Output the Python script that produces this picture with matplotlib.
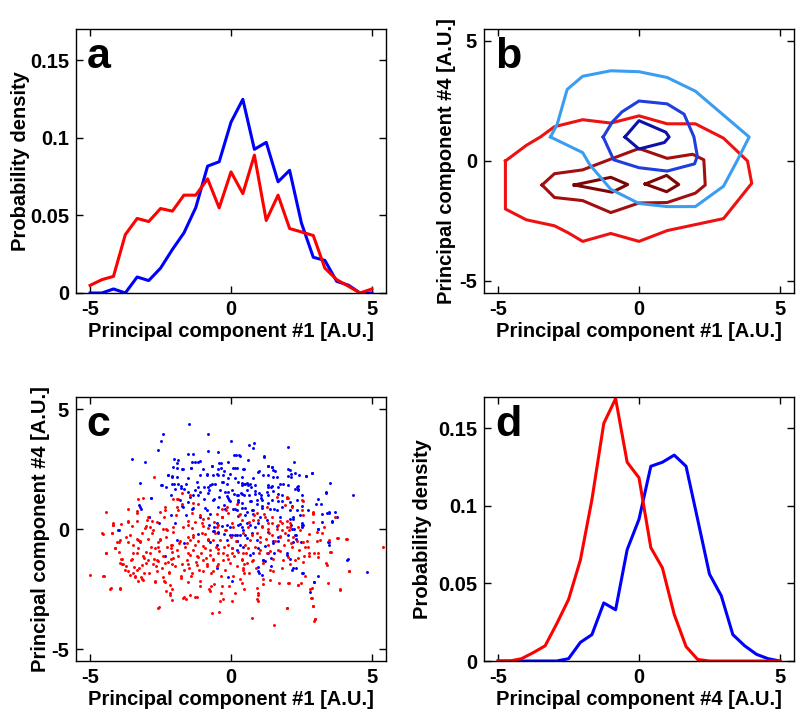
import numpy as np
import matplotlib
matplotlib.use('Agg')
import matplotlib.pyplot as plt

plt.rcParams['font.family'] = ['Liberation Sans', 'DejaVu Sans']
plt.rcParams['font.weight'] = 'bold'

# ---------------- data ----------------
bin_centers = [-5.0, -4.58, -4.17, -3.75, -3.33, -2.92, -2.5, -2.08, -1.67, -1.25,
               -0.83, -0.42, 0.0, 0.42, 0.83, 1.25, 1.67, 2.08, 2.5, 2.92,
               3.33, 3.75, 4.17, 4.58, 5.0]

pdf_pc1_red = [0.0049, 0.0086, 0.0107, 0.0376, 0.048, 0.046, 0.0544, 0.0527, 0.063, 0.063,
               0.0735, 0.0548, 0.078, 0.064, 0.0888, 0.0467, 0.063, 0.0415, 0.0393, 0.037,
               0.016, 0.0086, 0.0043, 0.0, 0.0026]
pdf_pc1_blue = [0.0, 0.0, 0.0026, 0.0, 0.0103, 0.008, 0.016, 0.028, 0.0387, 0.055,
                0.0817, 0.0845, 0.11, 0.1247, 0.0925, 0.097, 0.0716, 0.079, 0.045, 0.023,
                0.021, 0.0075, 0.005, 0.0, 0.0]

pdf_pc4_red = [0.0, 0.0, 0.0015, 0.0054, 0.0098, 0.024, 0.0396, 0.065, 0.104, 0.153,
               0.169, 0.128, 0.118, 0.073, 0.060, 0.030, 0.0093, 0.001, 0.0, 0.0,
               0.0, 0.0, 0.0, 0.0, 0.0]
pdf_pc4_blue = [0.0, 0.0, 0.0, 0.0, 0.0, 0.0, 0.0015, 0.012, 0.017, 0.0374,
                0.033, 0.0717, 0.0913, 0.1254, 0.128, 0.1326, 0.1254, 0.0913, 0.056, 0.042,
                0.017, 0.0098, 0.0043, 0.0015, 0.0]

# contour lines of panel b (pc1, pc4)
red_outer_x = [-4.74, -4.0, -3.5, -3.0, -2.0, -1.0, 0.0, 1.0, 2.0, 3.0, 3.85, 4.0, 3.0, 2.0, 1.0, 0.0, -1.0, -2.0, -2.5, -3.0, -4.0, -4.74, -4.74]
red_outer_y = [0.0, 0.65, 1.0, 1.43, 1.72, 1.58, 1.88, 1.55, 1.55, 0.95, 0.0, -0.93, -2.4, -2.65, -2.9, -3.35, -3.02, -3.35, -3.0, -2.7, -2.45, -2.0, 0.0]
red_mid_x = [-3.44, -3.0, -2.0, -1.0, 0.0, 1.0, 1.9, 2.3, 2.35, 2.0, 1.0, 0.0, -1.0, -2.0, -3.0, -3.44]
red_mid_y = [-1.0, -0.53, -0.37, 0.08, 0.52, 0.11, 0.28, 0.05, -1.0, -1.34, -1.73, -1.75, -2.15, -1.65, -1.52, -1.0]
red_in1_x = [-2.3, -1.0, -0.4, -0.95, -2.3]
red_in1_y = [-1.0, -0.68, -0.98, -1.3, -1.0]
red_in2_x = [0.22, 0.98, 1.41, 0.98, 0.22]
red_in2_y = [-0.96, -0.6, -0.98, -1.28, -0.96]
blue_outer_x = [-3.14, -2.9, -2.55, -2.0, -1.0, 0.0, 1.0, 2.0, 3.91, 3.5, 3.0, 2.0, 1.0, 0.0, -1.0, -1.75, -2.0, -3.14]
blue_outer_y = [1.0, 1.54, 2.98, 3.53, 3.76, 3.72, 3.48, 2.91, 1.0, 0.05, -1.05, -1.9, -1.9, -1.77, -1.18, -0.15, 0.35, 1.0]
blue_mid_x = [-1.27, -0.95, -0.6, 0.0, 1.0, 1.6, 1.95, 2.07, 1.97, 1.0, 0.0, -0.9, -1.27]
blue_mid_y = [1.0, 1.62, 2.05, 2.5, 2.38, 1.95, 1.0, 0.2, -0.12, -0.42, -0.28, 0.05, 1.0]
blue_in_x = [-0.5, 0.0, 0.95, 1.07, 0.9, 0.0, -0.5]
blue_in_y = [1.0, 1.68, 1.2, 1.0, 0.77, 0.5, 1.0]

# scatter of panel c (pc1, pc4)
blue_pts = [
(-1.48,4.39),(-2.43,3.95),(-0.83,3.98),(0.0,3.67),(-2.49,3.67),(0.64,3.51),(0.83,3.60),(0.79,3.36),
(2.04,3.42),(-2.6,3.29),(-0.8,3.23),(-0.45,3.19),(-1.54,3.12),(-1.36,3.12),(0.18,3.09),(0.32,3.05),
(1.17,3.01),(-3.51,2.90),(-3.05,2.78),(-2.02,2.92),(-1.87,2.89),(-1.28,2.78),(-1.1,2.82),(-0.09,2.78),
(0.62,2.87),(2.25,2.78),(1.3,2.64),(1.46,2.60),(2.08,2.46),(-2.05,2.6),(-1.72,2.5),(-1.42,2.54),
(-0.69,2.64),(-0.41,2.74),(-0.36,2.54),(0.14,2.54),(0.47,2.5),(1.0,2.41),(1.48,2.46),(-2.25,2.23),
(-2.1,2.16),(-1.93,2.16),(-1.1,2.23),(-0.86,2.3),(-0.51,2.3),(-0.27,2.23),(-0.04,2.3),(0.38,2.16),
(1.15,2.23),(1.64,2.16),(2.01,2.19),(2.65,2.19),(2.89,2.32),(-3.23,1.91),(-2.46,1.82),(-2.31,1.75),
(-2.01,1.86),(-1.78,1.72),(-1.6,1.86),(-1.18,1.77),(-0.83,1.77),(-0.69,1.88),(-0.3,1.95),(0.38,1.91),
(0.47,1.86),(0.56,1.91),(0.67,1.86),(0.71,1.75),(1.33,1.77),(1.42,1.77),(1.74,1.88),(3.51,1.91),
(2.33,1.75),(2.39,1.68),(-1.51,1.54),(-1.34,1.40),(-1.1,1.54),(-0.8,1.5),(-0.09,1.54),(0.2,1.40),
(0.38,1.47),(0.56,1.61),(0.85,1.58),(1.0,1.5),(1.27,1.54),(1.5,1.58),(1.68,1.47),(3.37,1.54),
(4.34,1.40),(-2.85,1.31),(-1.81,1.2),(-1.51,1.13),(-0.6,1.27),(-0.41,1.33),(-0.15,1.36),(-0.06,1.2),
(0.26,1.13),(0.7,1.17),(0.91,1.22),(1.05,1.31),(1.44,1.22),(1.8,1.17),(1.98,1.31),(2.33,1.22),
(-3.23,0.92),(-1.75,0.95),(-1.36,0.89),(-0.86,0.78),(-0.21,0.85),(0.08,0.85),(0.2,0.78),(0.38,0.89),
(0.56,0.72),(0.77,0.81),(1.09,0.95),(1.38,0.85),(1.62,0.78),(2.09,0.78),(2.51,0.95),(-1.6,0.58),
(-1.1,0.51),(-0.75,0.62),(-0.33,0.51),(0.26,0.54),(0.5,0.58),(0.79,0.62),(1.03,0.51),(1.74,0.51),
(2.09,0.4),(2.21,0.48),(3.22,0.62),(3.46,0.67),(3.75,0.51),(-2.91,0.51),(-2.54,0.23),(-1.99,0.26),
(-0.51,0.23),(-0.15,0.17),(0.32,0.21),(0.56,0.26),(0.97,0.23),(1.27,0.37),(1.62,0.12),(2.54,0.17),
(3.1,0.0),(3.57,0.34),(-3.96,-0.04),(-0.63,-0.07),(-0.45,-0.18),(-0.04,-0.25),(0.2,-0.25),(0.41,-0.04),
(0.73,-0.18),(1.33,-0.11),(1.68,-0.32),(2.31,-0.25),(-1.93,-0.45),(-0.8,-0.45),(0.2,-0.52),(0.91,-0.45),
(1.5,-0.52),(2.21,-0.56),(3.46,-0.56),(0.41,-0.73),(0.97,-0.8),(1.33,-1.0),(1.98,-1.0),(1.12,-1.28),
(1.2,-1.35),(1.42,-1.21),(2.21,-1.62),(2.51,-1.83),(1.0,-1.83),(4.13,-1.28),(4.82,-1.8),(2.8,-2.63),
(2.95,-2.21),(2.09,-1.25),(0.67,-1.07),
# second reading pass
(-1.9,2.75),(-1.9,2.53),(-1.73,2.48),(-2.23,2.26),(-2.08,2.2),(-1.89,1.89),(-2.08,1.89),(-2.48,1.82),
(-1.77,1.79),(-1.99,1.68),(-1.67,1.68),(-2.13,1.43),(-2.85,1.29),(-3.25,0.99),(-3.19,0.85),(-1.69,0.92),
(-2.13,0.58),(-2.9,0.51),(-4.0,-0.05),(-1.66,-0.6),(-2.34,-1.11),
(-0.35,2.75),(-1.37,2.78),(-1.16,2.78),(-1.42,2.53),(-0.98,2.48),(-0.69,2.61),(-0.47,2.48),(-0.24,2.43),
(0.08,2.53),(0.2,2.53),(0.44,2.5),(1.3,2.64),(1.47,2.57),(1.56,2.43),(-1.52,2.12),(-0.86,2.26),
(-0.63,2.26),(-0.45,2.23),(-0.12,2.12),(0.14,2.12),(0.79,2.12),(0.95,2.39),(1.3,2.23),(1.5,2.16),
(-1.22,1.95),(-0.95,1.75),(-0.75,1.82),(-0.57,1.89),(-0.33,1.95),(-0.15,1.89),(0.26,1.95),(0.38,1.84),
(0.5,1.89),(0.61,1.84),(0.85,1.82),(1.32,1.82),(1.47,1.79),(1.68,1.75),(1.86,1.89),(-1.28,1.61),
(-0.78,1.61),(-0.39,1.61),(-0.21,1.54),(0.02,1.61),(0.12,1.47),(0.24,1.4),(0.36,1.51),(0.47,1.4),
(0.64,1.4),(0.85,1.47),(1.06,1.4),(1.32,1.4),(1.8,1.4),(-1.46,1.33),(-1.16,1.4),(-0.95,1.27),
(-0.63,1.2),(-0.1,1.29),(-0.04,1.16),(0.26,1.2),(0.38,1.1),(0.67,1.16),(0.91,1.06),(1.11,1.2),
(1.32,1.1),(1.66,1.16),(1.8,0.92),(-1.39,0.85),(-0.92,0.88),(-0.45,0.92),(-0.24,0.99),(0.14,0.85),
(0.5,0.88),(0.73,0.78),(1.11,0.88),(1.54,0.82),(3.18,1.03),(1.18,3.03),(0.12,3.08),(0.3,3.08),
(-0.78,0.15),(-0.59,0.08),(-0.31,0.12),(-0.04,0.08),(0.26,0.15),(0.38,0.08),(0.67,0.18),(0.85,0.08),
(-1.16,-0.19),(-0.59,-0.1),(-0.45,-0.12),(-0.24,-0.19),(0.02,-0.26),(0.14,-0.26),(0.32,-0.26),(0.5,-0.26),
(0.56,-0.37),(-0.15,-0.47),(0.2,-0.51),(-0.75,-0.56),(-0.51,-0.67),(0.32,-0.67),(1.21,-0.7),(1.5,-0.6),
(1.68,-0.51),(0.02,-0.78),(0.2,-0.88),(0.79,-1.02),(1.54,-1.02),(1.15,-1.29),(0.95,-1.57),(1.42,-1.53),
(-0.51,-1.61),(-0.1,-1.98),(0.97,-1.77),(1.11,-1.91),(0.02,-2.16),
(2.03,2.48),(2.13,2.3),(2.13,2.16),(2.27,2.34),(2.41,2.23),(2.65,2.2),(2.89,2.34),(2.01,1.82),
(2.37,1.79),(2.27,1.68),(2.39,1.61),(3.36,1.51),(2.53,1.43),(3.1,1.27),(2.09,1.13),(2.18,0.96),
(3.02,1.06),(2.33,0.78),(2.74,0.78),(2.45,0.58),(3.4,0.65),(3.48,0.71),(3.69,0.69),(3.22,0.3),
(2.21,0.41),(2.53,0.23),(3.57,0.3),(2.13,0.18),(2.51,0.18),(2.53,0.08),(2.18,0.01),(2.25,-0.01),
(3.08,0.01),(2.03,-0.24),(2.27,-0.26),(2.3,-0.43),(2.48,-0.54),(3.43,-0.56),(3.48,-0.65),(1.98,-1.09),
(4.14,-1.25),(2.3,-1.64),(2.15,-1.7),(2.57,-1.84),(3.1,-1.94),(2.96,-2.22)]

red_pts = [
(-5.0,-1.93),(-4.56,-0.18),(-4.42,0.72),(-4.53,-1.97),(-4.44,-1.0),(-4.3,-2.48),(-4.24,-0.15),(-4.18,0.17),
(-4.12,-0.8),(-4.06,-0.56),(-3.94,-0.45),(-3.92,-1.25),(-3.88,-1.44),(-3.94,-2.48),(-3.76,-1.72),(-3.73,-1.55),
(-3.64,0.3),(-3.59,-0.25),(-3.56,-1.28),(-3.49,-1.83),(-3.47,-0.66),(-3.41,-1.94),(-3.35,0.65),(-3.33,-1.0),
(-3.29,-0.45),(-3.26,-1.62),(-3.23,-0.56),(-3.17,-2.1),(-3.17,-0.18),(-3.11,-1.14),(-3.05,0.03),(-3.02,-1.42),
(-2.96,0.51),(-2.93,-1.28),(-2.9,-1.83),(-2.88,0.1),(-2.85,-0.73),(-2.82,-0.18),(-2.73,2.16),(-2.7,-2.17),
(-2.66,-1.55),(-2.64,-1.28),(-2.58,-0.73),(-2.54,-3.27),(-2.52,-0.45),(-2.46,-1.62),(-2.4,-1.14),(-2.38,-2.17),
(-2.34,0.78),(-2.31,-0.32),(-2.28,-0.73),(-2.26,-0.04),(-2.22,-1.39),(-2.19,-1.83),(-2.17,-2.65),(-2.14,-0.66),
(-2.1,-2.52),(-2.07,0.1),(-2.05,-1.21),(-1.99,-1.55),(-1.93,0.92),(-1.91,-0.89),(-1.87,-1.11),(-1.81,-0.52),
(-1.79,-2.04),(-1.75,-1.45),(-1.72,-2.86),(-1.69,0.1),(-1.67,-1.69),(-1.63,-0.73),(-1.6,-2.93),(-1.57,-1.28),
(-1.51,-1.0),(-1.48,-1.62),(-1.46,-0.45),(-1.43,-1.97),(-1.4,0.65),(-1.36,-0.32),(-1.34,-0.87),(-1.28,-2.82),
(-1.24,-1.39),(-1.22,-1.11),(-1.16,-0.52),(-1.12,-1.69),(-1.1,-2.17),(-1.08,-1.0),(-1.04,-0.18),(-1.01,-1.28),
(-0.98,0.4),(-0.92,-0.8),(-0.86,-1.55),(-0.8,0.03),(-0.77,-2.52),(-0.75,-1.07),(-0.72,-1.83),(-0.69,-3.48),
(-0.65,-0.45),(-0.63,-1.28),(-0.6,-2.31),(-0.57,-0.18),(-0.53,-0.73),(-0.51,-1.53),(-0.48,0.1),(-0.45,-1.0),
(-0.41,-3.45),(-0.39,-0.45),(-0.37,-1.97),(-0.33,0.51),(-0.3,-1.28),(-0.27,-2.93),(-0.25,-0.73),(-0.21,-1.69),
(-0.18,-0.04),(-0.15,-1.07),(-0.13,0.92),(-0.09,-0.66),(-0.06,-2.38),(-0.04,-1.42),(-0.01,-0.32),(0.02,-0.8),
(0.06,-1.94),(0.08,0.1),(0.11,-1.14),(0.14,-2.65),(0.18,-0.52),(0.2,-1.55),(0.26,-0.94),(0.3,0.58),
(0.32,-2.1),(0.38,-1.28),(0.41,-0.18),(0.44,-1.69),(0.46,-2.52),(0.5,-0.66),(0.53,-1.0),(0.56,-1.42),
(0.62,0.1),(0.65,-1.83),(0.67,-0.45),(0.73,-3.69),(0.77,-1.28),(0.79,0.37),(0.85,-0.73),(0.88,-1.62),
(0.91,-0.18),(0.93,-2.93),(0.97,-2.65),(1.0,-1.0),(1.03,-0.56),(1.09,0.1),(1.12,-2.1),(1.15,-1.42),
(1.21,0.51),(1.24,-0.43),(1.27,-1.0),(1.33,-0.66),(1.36,-0.18),(1.38,-1.72),(1.44,0.23),(1.48,-1.25),
(1.54,-3.99),(1.56,-0.52),(1.62,-0.01),(1.68,-0.87),(1.72,-2.24),(1.74,-0.29),(1.8,0.23),(1.83,-1.28),
(1.88,-0.66),(1.92,-0.18),(1.98,-3.31),(2.0,1.33),(2.04,-0.45),(2.07,-2.24),(2.09,0.1),(2.15,-0.73),
(2.21,-0.32),(2.27,-1.28),(2.33,-0.52),(2.39,-2.35),(2.43,-0.87),(2.45,-0.04),(2.51,1.2),(2.54,-0.56),
(2.6,-1.14),(2.63,-1.94),(2.69,-0.52),(2.75,-1.14),(2.8,-2.52),(2.86,-2.86),(2.9,-3.2),(2.92,0.65),
(2.95,-3.82),(2.98,-3.76),(3.04,-0.52),(3.1,-0.98),(3.22,-0.18),(3.37,-1.42),(3.49,-0.45),(3.54,-0.94),
(3.75,-0.39),(3.87,-2.52),(4.08,-0.41),(4.17,-1.76),(5.38,-0.76),(-3.64,0.85),(-3.14,1.31),(-1.87,1.27),
(-0.18,0.78),(0.2,1.06),(0.91,0.65),(1.27,0.92),(1.64,1.33),(-0.33,0.85),
# second reading pass
(-1.73,1.51),(-2.05,1.24),(-1.93,1.24),(-3.29,1.24),(-2.34,0.92),(-1.75,1.06),(-1.87,0.78),(-3.33,0.74),
(-2.52,0.69),(-2.37,0.51),(-1.96,0.58),(-3.65,0.33),(-3.33,0.33),(-2.82,0.33),(-2.64,0.3),(-2.99,0.37),
(-4.18,0.24),(-3.9,0.19),
(-4.18,0.18),(-3.52,0.12),(-3.03,0.12),(-2.76,-0.05),(-2.42,-0.01),(-2.31,-0.01),(-2.05,-0.12),(-4.53,-0.19),
(-4.24,-0.17),(-3.74,-0.33),(-3.34,-0.4),(-3.23,-0.51),(-2.96,-0.4),(-2.52,-0.43),(-2.6,-0.56),(-2.08,-0.65),
(-1.85,-0.6),(-3.97,-0.56),(-3.65,-0.54),(-4.12,-0.78),(-3.29,-0.78),(-2.7,-0.81),(-2.13,-0.78),(-4.44,-1.02),
(-3.97,-0.95),(-3.47,-0.98),(-3.03,-0.95),(-2.88,-0.99),(-2.56,-0.92),(-2.1,-0.95),(-3.86,-1.25),(-3.52,-1.23),
(-3.08,-1.2),(-2.72,-1.25),(-2.58,-1.33),(-2.13,-1.23),(-3.94,-1.43),(-3.82,-1.47),(-3.43,-1.57),(-3.15,-1.5),
(-2.76,-1.47),(-2.34,-1.43),(-2.08,-1.47),(-4.51,-1.95),(-3.65,-1.77),(-3.35,-1.7),(-3.08,-1.84),(-2.64,-1.77),
(-2.2,-1.8),(-1.77,-1.94),(-3.59,-1.91),(-3.41,-2.02),(-3.19,-2.02),(-3.11,-2.12),(-3.31,-2.16),(-2.7,-2.19),
(-2.4,-1.98),(-2.34,-2.19),(-2.17,-2.32),(-4.26,-2.46),(-3.94,-2.46),(-2.31,-2.57),(-2.17,-2.77),(-2.08,-2.94),
(-1.66,-2.85),(-2.58,-3.31),
(-1.46,1.4),(-1.34,1.1),(-1.1,0.58),(-0.8,0.44),(-0.51,0.61),(-0.33,0.51),(-0.12,0.65),(0.32,0.61),
(0.4,0.37),(0.83,0.58),(0.97,0.37),(1.18,0.61),(1.47,0.51),(1.74,0.33),(-1.52,0.33),(-1.28,0.28),
(-1.04,0.23),(-0.59,0.28),(0.02,0.23),(0.64,0.28),(1.32,0.23),(-1.16,1.06),
(-1.54,0.15),(-1.37,0.04),(-0.98,0.12),(-0.47,0.18),(-0.21,-0.05),(1.09,0.12),(1.32,0.01),(1.68,0.15),
(1.82,-0.05),(-1.52,-0.33),(-1.34,-0.26),(-0.92,-0.19),(-0.8,-0.4),(0.73,-0.26),(1.03,-0.33),(1.44,-0.26),
(1.74,-0.33),(-1.57,-0.6),(-1.28,-0.67),(-0.98,-0.7),(-0.75,-0.88),(-0.45,-0.84),(-0.27,-0.98),(0.02,-1.02),
(0.44,-0.98),(0.61,-0.81),(1.03,-0.88),(1.38,-0.92),(1.74,-0.92),(-1.46,-1.09),(-1.16,-1.16),(-0.9,-1.2),
(-0.63,-1.25),(-0.1,-1.25),(0.38,-1.23),(0.73,-1.33),(-1.54,-1.47),(-1.22,-1.5),(-0.86,-1.47),(-0.45,-1.47),
(0.47,-1.47),(-1.39,-1.84),(-0.98,-1.77),(-0.63,-1.75),(0.44,-1.61),(0.47,-1.84),(1.5,-1.77),(1.8,-1.61),
(-1.52,-2.19),(-1.1,-2.39),(-0.71,-2.39),(-0.33,-2.39),(0.38,-2.26),(1.15,-2.3),(1.38,-2.12),(-0.75,-2.6),
(-0.35,-2.67),(0.91,-2.46),(-1.46,-2.77),(-1.22,-2.85),(0.95,-2.77),(0.95,-3.01),(-0.39,-3.01),(0.02,-2.98),
(1.98,1.29),(2.03,1.29),(2.57,1.16),(1.92,0.99),(2.18,0.92),(2.51,0.78),(2.57,0.58),(2.92,0.71),
(2.92,0.61),(3.69,0.51),(1.98,0.33),(2.09,0.23),(2.92,0.3),
(1.98,0.08),(2.06,-0.05),(2.39,0.08),(2.77,-0.19),(3.04,-0.12),(3.16,-0.47),(3.31,0.08),(3.79,-0.37),
(4.11,-0.4),(2.13,-0.6),(2.63,-0.74),(2.72,-0.74),(2.77,-0.98),(2.96,-0.98),(3.1,-1.16),(2.01,-1.16),
(2.37,-1.2),(2.57,-1.39),(3.51,-0.95),(3.4,-1.5),(2.09,-1.47),(4.17,-1.77),(2.01,-2.26),(2.39,-2.32),
(2.48,-2.26),(3.45,-2.26),(3.87,-2.53),(2.86,-2.46),(2.84,-2.88),(2.92,-3.22),(1.98,-3.31),(2.98,-3.73)]

# ---------------- figure ----------------
fig = plt.figure(figsize=(8.0, 7.16), dpi=100)
pos = {'a': [0.095, 0.5908, 0.3875, 0.3687], 'b': [0.605, 0.5908, 0.3875, 0.3687],
       'c': [0.095, 0.0768, 0.3875, 0.3687], 'd': [0.605, 0.0768, 0.3875, 0.3687]}
FS = 14.5
LW = 2.2

def style(ax, letter):
    ax.tick_params(direction='in', top=True, right=True, length=5, width=1,
                   labelsize=FS, pad=5)
    for s in ax.spines.values():
        s.set_linewidth(1)
    for lab in ax.get_xticklabels() + ax.get_yticklabels():
        lab.set_fontweight('bold')
    ax.text(0.035, 0.852, letter, transform=ax.transAxes, fontsize=31,
            fontweight='bold', ha='left', va='baseline')

pd_ticks = [0, 0.05, 0.1, 0.15]
pd_labels = ['0', '0.05', '0.1', '0.15']
pc_ticks = [-5, 0, 5]
pc_labels = ['-5', '0', '5']

# a
ax = fig.add_axes(pos['a'])
ax.plot(bin_centers, pdf_pc1_blue, color='#0000ff', lw=LW)
ax.plot(bin_centers, pdf_pc1_red, color='#ff0000', lw=LW)
ax.set_xlim(-5.5, 5.5); ax.set_ylim(0, 0.17)
ax.set_xticks(pc_ticks); ax.set_xticklabels(pc_labels)
ax.set_yticks(pd_ticks); ax.set_yticklabels(pd_labels)
ax.set_xlabel('Principal component #1 [A.U.]', fontsize=FS, fontweight='bold', labelpad=2)
ax.set_ylabel('Probability density', fontsize=FS, fontweight='bold', labelpad=0)
style(ax, 'a')

# b
ax = fig.add_axes(pos['b'])
ax.plot(red_outer_x, red_outer_y, color='#ee1111', lw=LW)
ax.plot(red_mid_x, red_mid_y, color='#a30f0f', lw=LW)
ax.plot(red_in1_x, red_in1_y, color='#7d0505', lw=LW)
ax.plot(red_in2_x, red_in2_y, color='#7d0505', lw=LW)
ax.plot(blue_outer_x, blue_outer_y, color='#3b9df0', lw=LW)
ax.plot(blue_mid_x, blue_mid_y, color='#1e3fdc', lw=LW)
ax.plot(blue_in_x, blue_in_y, color='#0c12a6', lw=LW)
ax.set_xlim(-5.5, 5.5); ax.set_ylim(-5.5, 5.5)
ax.set_xticks(pc_ticks); ax.set_xticklabels(pc_labels)
ax.set_yticks(pc_ticks); ax.set_yticklabels(pc_labels)
ax.set_xlabel('Principal component #1 [A.U.]', fontsize=FS, fontweight='bold', labelpad=2)
ax.set_ylabel('Principal component #4 [A.U.]', fontsize=FS, fontweight='bold', labelpad=2)
style(ax, 'b')

# c
ax = fig.add_axes(pos['c'])
bx = [p[0] for p in blue_pts]; by = [p[1] for p in blue_pts]
rx = [p[0] for p in red_pts]; ry = [p[1] for p in red_pts]
ax.scatter(bx, by, s=4.5, color='#0000ff', linewidths=0)
ax.scatter(rx, ry, s=4.5, color='#ff0000', linewidths=0)
ax.set_xlim(-5.5, 5.5); ax.set_ylim(-5.5, 5.5)
ax.set_xticks(pc_ticks); ax.set_xticklabels(pc_labels)
ax.set_yticks(pc_ticks); ax.set_yticklabels(pc_labels)
ax.set_xlabel('Principal component #1 [A.U.]', fontsize=FS, fontweight='bold', labelpad=2)
ax.set_ylabel('Principal component #4 [A.U.]', fontsize=FS, fontweight='bold', labelpad=1)
style(ax, 'c')

# d
ax = fig.add_axes(pos['d'])
ax.plot(bin_centers, pdf_pc4_blue, color='#0000ff', lw=LW)
ax.plot(bin_centers, pdf_pc4_red, color='#ff0000', lw=LW)
ax.set_xlim(-5.5, 5.5); ax.set_ylim(0, 0.17)
ax.set_xticks(pc_ticks); ax.set_xticklabels(pc_labels)
ax.set_yticks(pd_ticks); ax.set_yticklabels(pd_labels)
ax.set_xlabel('Principal component #4 [A.U.]', fontsize=FS, fontweight='bold', labelpad=2)
ax.set_ylabel('Probability density', fontsize=FS, fontweight='bold', labelpad=4)
style(ax, 'd')

fig.savefig('out.png', dpi=100)
